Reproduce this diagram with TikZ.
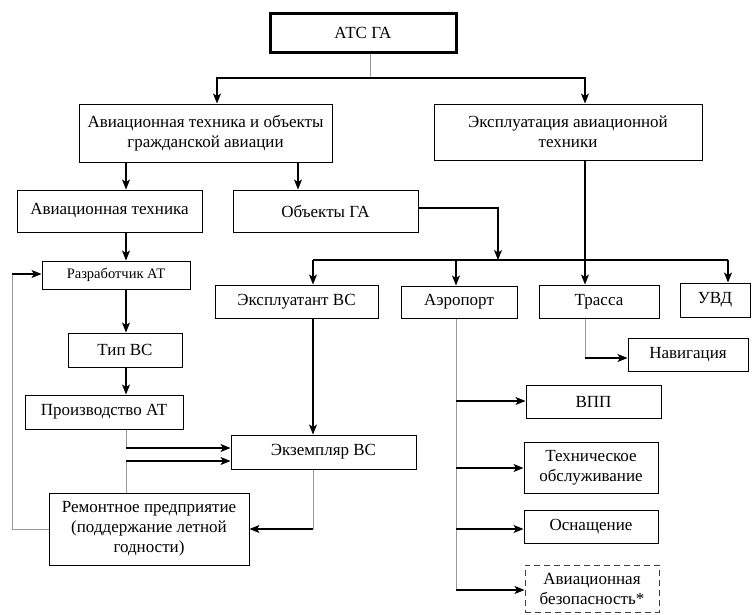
\documentclass[tikz,border=0pt]{standalone}
\usepackage{fontspec}
\setmainfont{LiberationSerif}[Extension=.ttf, UprightFont=*-Regular, BoldFont=*-Bold]
\usetikzlibrary{arrows.meta}
\begin{document}
\begin{tikzpicture}[x=1pt,y=-1pt,
  box/.style={draw, line width=1pt, inner sep=0pt, align=center, font=\fontsize{17}{20}\selectfont},
  arr/.style={line width=1.2pt, -{Stealth[length=10pt,width=8pt,inset=2.5pt]}},
  blk/.style={line width=1.2pt},
  gry/.style={line width=0.7pt, draw=black!40}]
\useasboundingbox (0,0) rectangle (756,614);
% boxes
\node[box, line width=3pt, minimum width=186pt, minimum height=39pt] (atc) at (363,32.5) {АТС ГА};
\node[box, minimum width=253pt, minimum height=58pt] (ato) at (205.5,133) {Авиационная техника и объекты\\гражданской авиации};
\node[box, minimum width=268pt, minimum height=56pt] (expl) at (568,132) {Эксплуатация авиационной\\техники};
\node[box, minimum width=185pt, minimum height=42pt] (avt) at (109.5,211) {Авиационная техника};
\node[box, minimum width=185pt, minimum height=42pt] (obj) at (325.5,211) {Объекты ГА};
\node[box, font=\fontsize{14.5}{17}\selectfont, minimum width=148pt, minimum height=28pt] (razr) at (116,275) {Разработчик АТ};
\node[box, minimum width=114pt, minimum height=34pt] (tip) at (125,350) {Тип ВС};
\node[box, minimum width=158pt, minimum height=34pt] (proizv) at (104,412) {Производство АТ};
\node[box, minimum width=163pt, minimum height=33pt] (explt) at (296.5,301.5) {Эксплуатант ВС};
\node[box, minimum width=116pt, minimum height=32pt] (aero) at (459,302) {Аэропорт};
\node[box, minimum width=120pt, minimum height=33pt] (trassa) at (599,301.5) {Трасса};
\node[box, minimum width=70pt, minimum height=34pt] (uvd) at (715,300) {УВД};
\node[box, minimum width=120pt, minimum height=33pt] (nav) at (688,354.5) {Навигация};
\node[box, minimum width=135pt, minimum height=33pt] (vpp) at (593.5,401.5) {ВПП};
\node[box, minimum width=134pt, minimum height=51pt] (to) at (591,467.5) {Техническое\\обслуживание};
\node[box, minimum width=134pt, minimum height=33pt] (osn) at (591,526.5) {Оснащение};
\node[box, dashed, dash pattern=on 6pt off 4pt, draw=black!75, minimum width=134pt, minimum height=47pt] (bez) at (592,588.5) {Авиационная\\безопасность*};
\node[box, minimum width=185pt, minimum height=34pt] (ekz) at (323.5,452) {Экземпляр ВС};
\node[box, minimum width=200pt, minimum height=72pt] (rem) at (149,529) {Ремонтное предприятие\\(поддержание летной\\годности)};
% guides
\coordinate (gA) at (126,0);
\coordinate (gB) at (217,0);
\coordinate (gC) at (298,0);
\coordinate (gD) at (313,0);
\coordinate (gE) at (370,0);
\coordinate (gF) at (456,0);
\coordinate (gG) at (498,0);
\coordinate (gH) at (585,0);
\coordinate (gI) at (728,0);
\coordinate (gJ) at (12,0);
\coordinate (hTop) at (0,78);
\coordinate (hBus) at (0,260);
\coordinate (hObj) at (0,208);
\coordinate (hNav) at (0,358);
\coordinate (hP1) at (0,448);
\coordinate (hP2) at (0,461);
\coordinate (hV) at (0,401);
\coordinate (hT) at (0,468);
\coordinate (hO) at (0,529);
\coordinate (hZ) at (0,590);
\coordinate (hR) at (0,529);
\coordinate (hL) at (0,274);
% connectors
\draw[gry] (atc.south -| gE) -- (gE |- hTop);
\draw[arr] (gE |- hTop) -| (ato.north -| gB);
\draw[arr] (gE |- hTop) -| (expl.north -| gH);
\draw[arr] (ato.south -| gA) -- (avt.north -| gA);
\draw[arr] (ato.south -| gC) -- (obj.north -| gC);
\draw[arr] (avt.south -| gA) -- (razr.north -| gA);
\draw[arr] (razr.south -| gA) -- (tip.north -| gA);
\draw[arr] (tip.south -| gA) -- (proizv.north -| gA);
\draw[arr] (obj.east |- hObj) -| (gG |- hBus);
\draw[blk] (gD |- hBus) -- (gI |- hBus);
\draw[arr] (gD |- hBus) -- (explt.north -| gD);
\draw[arr] (gF |- hBus) -- (aero.north -| gF);
\draw[arr] (gI |- hBus) -- (uvd.north -| gI);
\draw[arr] (expl.south -| gH) -- (trassa.north -| gH);
\draw[gry] (trassa.south -| gH) -- (gH |- hNav);
\draw[arr] (gH |- hNav) -- (nav.west |- hNav);
\draw[gry] (aero.south -| gF) -- (gF |- hZ);
\draw[arr] (gF |- hV) -- (vpp.west |- hV);
\draw[arr] (gF |- hT) -- (to.west |- hT);
\draw[arr] (gF |- hO) -- (osn.west |- hO);
\draw[arr] (gF |- hZ) -- (bez.west |- hZ);
\draw[arr] (explt.south -| gD) -- (ekz.north -| gD);
\draw[gry] (proizv.south -| gA) -- (gA |- hP1);
\draw[arr] (gA |- hP1) -- (ekz.west |- hP1);
\draw[gry] (rem.north -| gA) -- (gA |- hP2);
\draw[arr] (gA |- hP2) -- (ekz.west |- hP2);
\draw[gry] (ekz.south -| gD) -- (gD |- hR);
\draw[arr] (gD |- hR) -- (rem.east |- hR);
\draw[gry] (rem.west |- hR) -| (gJ |- hL);
\draw[arr] (gJ |- hL) -- (razr.west |- hL);
\end{tikzpicture}
\end{document}
